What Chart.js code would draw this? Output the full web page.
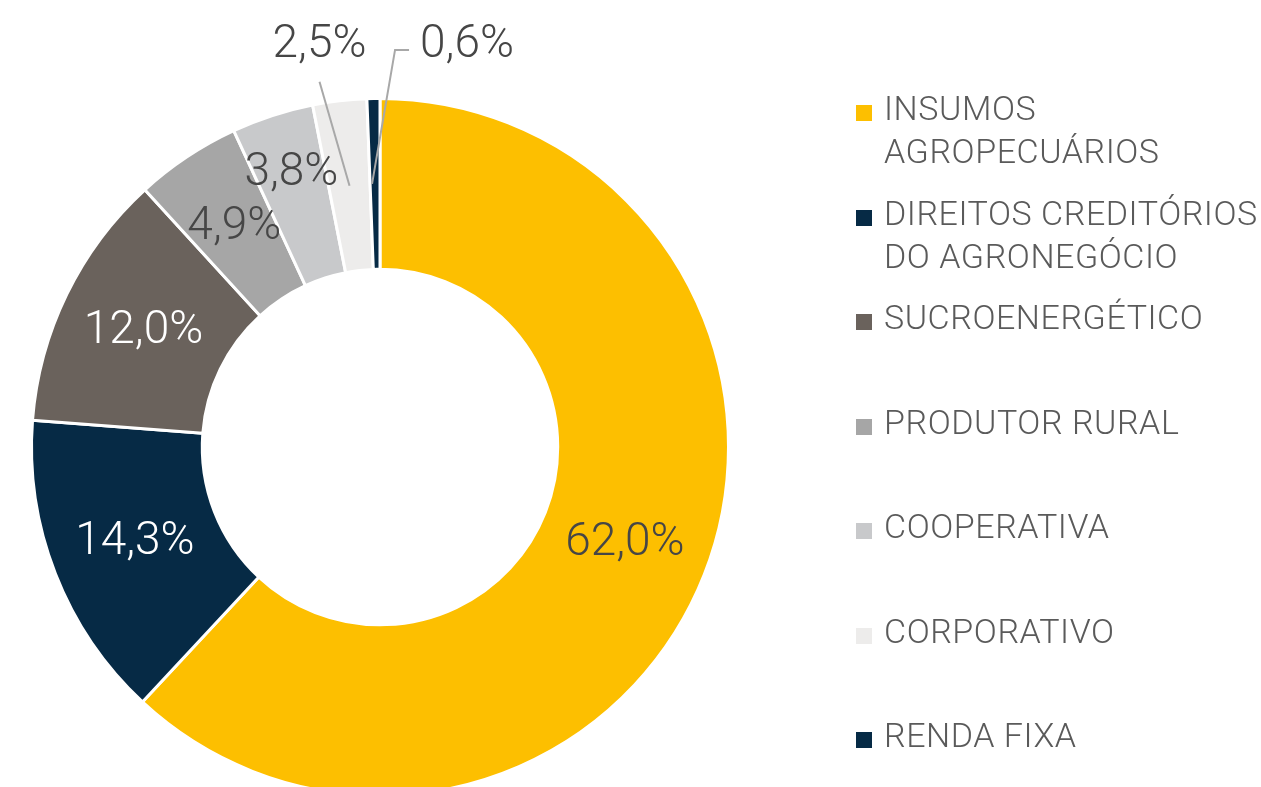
<!DOCTYPE html>
<html>
<head>
<meta charset="utf-8">
<script src="https://cdn.jsdelivr.net/npm/chart.js@4/dist/chart.umd.min.js"></script>
<style>
  html, body { margin:0; padding:0; background:#fff; overflow:hidden; }
  #wrap { position:relative; width:1261px; height:787px; overflow:hidden; }
  #pie { position:absolute; left:0; top:0; }
  .leg { position:absolute; left:856px; font-family:Roboto, "Noto Sans", sans-serif; font-weight:300;
         font-size:34px; line-height:43px; color:#5a5a5a; white-space:nowrap; letter-spacing:0.55px; }
  .leg .box { position:absolute; left:0; top:18px; width:16px; height:16px; }
  .leg .txt { position:absolute; left:28px; top:0; }
</style>
</head>
<body>
<div id="wrap">
  <canvas id="pie" width="1261" height="800"></canvas>
</div>
<script>
// categories (multi-line labels as arrays)
const categories = [
  ["INSUMOS", "AGROPECUÁRIOS"],
  ["DIREITOS CREDITÓRIOS", "DO AGRONEGÓCIO"],
  "SUCROENERGÉTICO",
  "PRODUTOR RURAL",
  "COOPERATIVA",
  "CORPORATIVO",
  "RENDA FIXA"
];
const shares = [62.0, 14.3, 12.0, 4.9, 3.8, 2.5, 0.6];
const colors = ["#fdbf00", "#062a45", "#6a625c", "#a6a6a6", "#c8c9cb", "#edeceb", "#062a45"];
const labelColors = ["#464646", "#ffffff", "#ffffff", "#464646", "#464646", "#464646", "#464646"];

// percentage label placement: radial push (px) for inside labels
const labelPush = [0, 0, 0, 0, 24, 0, 0];

const fmt = v => v.toFixed(1).replace(".", ",") + "%";

const pctLabels = {
  id: "pctLabels",
  afterDatasetsDraw(chart) {
    const ctx = chart.ctx;
    const meta = chart.getDatasetMeta(0);
    ctx.save();
    ctx.font = "300 46px Roboto, 'Noto Sans', sans-serif";
    ctx.textBaseline = "middle";
    meta.data.forEach((arc, i) => {
      const p = arc.getProps(["x", "y", "startAngle", "endAngle", "innerRadius", "outerRadius"], true);
      const mid = (p.startAngle + p.endAngle) / 2;
      const r = (p.innerRadius + p.outerRadius) / 2 + labelPush[i];
      const px = p.x + Math.cos(mid) * r;
      const py = p.y + Math.sin(mid) * r;
      const txt = fmt(shares[i]);
      ctx.fillStyle = labelColors[i];
      if (i === 5) {
        // callout up-left
        ctx.strokeStyle = "#a8a8a8";
        ctx.lineWidth = 2;
        ctx.beginPath();
        ctx.moveTo(px, py);
        ctx.lineTo(px - 30, py - 104);
        ctx.stroke();
        ctx.textAlign = "center";
        ctx.fillText(txt, px - 30, py - 140);
      } else if (i === 6) {
        // elbow callout to the right
        ctx.strokeStyle = "#a8a8a8";
        ctx.lineWidth = 2;
        ctx.beginPath();
        ctx.moveTo(px - 3, py);
        ctx.lineTo(px + 20, py - 134);
        ctx.lineTo(px + 34, py - 134);
        ctx.stroke();
        ctx.textAlign = "left";
        ctx.fillText(txt, px + 45, py - 138);
      } else {
        ctx.textAlign = "center";
        ctx.fillText(txt, px, py);
      }
    });
    ctx.restore();
  }
};

new Chart(document.getElementById("pie"), {
  type: "doughnut",
  data: {
    labels: categories,
    datasets: [{
      data: shares,
      backgroundColor: colors,
      borderColor: "#ffffff",
      borderWidth: 3,
      hoverOffset: 0
    }]
  },
  options: {
    responsive: false,
    devicePixelRatio: 1,
    animation: false,
    cutout: "51%",
    layout: { padding: { left: 30, right: 531, top: 97, bottom: 3 } },
    plugins: {
      legend: { display: false },
      tooltip: { enabled: false }
    },
    events: []
  },
  plugins: [pctLabels]
});

// legend on the right
const wrap = document.getElementById("wrap");
categories.forEach((c, i) => {
  const item = document.createElement("div");
  item.className = "leg";
  item.style.top = (87 + i * 104.5) + "px";
  const box = document.createElement("div");
  box.className = "box";
  box.style.background = colors[i];
  const t = document.createElement("div");
  t.className = "txt";
  t.innerHTML = (Array.isArray(c) ? c : [c]).join("<br>");
  item.appendChild(box);
  item.appendChild(t);
  wrap.appendChild(item);
});
</script>
</body>
</html>
